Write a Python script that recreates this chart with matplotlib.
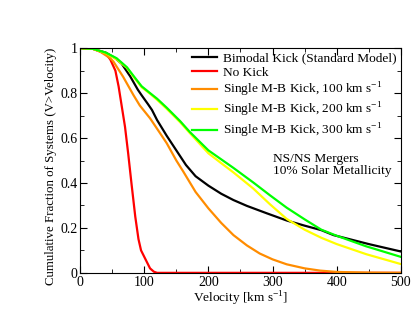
import numpy as np
import matplotlib
matplotlib.use("Agg")
import matplotlib.pyplot as plt
from matplotlib.ticker import MultipleLocator

plt.rcParams["font.family"] = ["Liberation Serif", "DejaVu Serif"]
plt.rcParams["mathtext.fontset"] = "custom"
plt.rcParams["mathtext.rm"] = "Liberation Serif"
plt.rcParams["font.size"] = 10

# values
v_black = [0, 20, 40, 55, 65, 78, 90, 96, 106, 112, 120, 135, 150, 165, 180, 200, 220, 239, 260, 291, 322, 350, 376, 395, 450, 500]
f_black = [1.0, 0.997, 0.98, 0.955, 0.93, 0.875, 0.815, 0.79, 0.75, 0.725, 0.68, 0.61, 0.545, 0.48, 0.43, 0.388,
           0.352, 0.324, 0.298, 0.265, 0.233, 0.21, 0.19, 0.168, 0.128, 0.095]

v_red = [0, 20, 40, 47, 55, 60, 65, 70, 75, 80, 86, 91, 95, 102, 109, 115, 120, 500]
f_red = [1.0, 0.997, 0.975, 0.95, 0.9, 0.83, 0.74, 0.65, 0.53, 0.40, 0.25, 0.15, 0.10, 0.06, 0.02, 0.005, 0.0, 0.0]

v_orange = [0, 20, 31, 47, 52, 67, 83, 93, 100, 109, 125, 135, 150, 161, 180, 200, 220, 239, 260, 280, 300, 322, 350, 374, 400, 450, 500]
f_orange = [1.0, 0.997, 0.985, 0.955, 0.94, 0.873, 0.792, 0.745, 0.72, 0.688, 0.62, 0.577, 0.5, 0.45, 0.36, 0.287,
            0.222, 0.168, 0.122, 0.086, 0.06, 0.038, 0.02, 0.01, 0.004, 0.001, 0.0]

v_yellow = [0, 20, 40, 57, 73, 85, 96, 109, 120, 135, 156, 171, 200, 220, 239, 270, 296, 322, 350, 376, 400, 446, 500]
f_yellow = [1.0, 0.997, 0.978, 0.95, 0.912, 0.866, 0.826, 0.797, 0.77, 0.73, 0.67, 0.622, 0.532, 0.488, 0.447, 0.375,
            0.305, 0.24, 0.192, 0.156, 0.128, 0.083, 0.039]

v_green = [0, 20, 40, 57, 73, 85, 96, 109, 120, 135, 156, 171, 200, 220, 239, 270, 296, 322, 350, 376, 400, 446, 500]
f_green = [1.0, 0.997, 0.98, 0.955, 0.915, 0.87, 0.83, 0.80, 0.775, 0.735, 0.675, 0.627, 0.545, 0.505, 0.467, 0.402,
           0.345, 0.29, 0.238, 0.192, 0.165, 0.118, 0.071]

fig = plt.figure(figsize=(4.15, 3.21), dpi=100)
ax = fig.add_axes([0.193, 0.150, 0.773, 0.700])

ax.plot(v_black, f_black, color="black", lw=1.6, label="Bimodal Kick (Standard Model)")
ax.plot(v_red, f_red, color="#ff0000", lw=1.6, label="No Kick")
ax.plot(v_orange, f_orange, color="#ff8c00", lw=1.6, label="Single M-B Kick, 100 km s$^{-1}$")
ax.plot(v_yellow, f_yellow, color="#ffff00", lw=1.6, label="Single M-B Kick, 200 km s$^{-1}$")
ax.plot(v_green, f_green, color="#00ff00", lw=1.6, label="Single M-B Kick, 300 km s$^{-1}$")

ax.set_xlim(0, 500)
ax.set_ylim(0, 1)
ax.xaxis.set_major_locator(MultipleLocator(100))
ax.xaxis.set_minor_locator(MultipleLocator(50))
ax.yaxis.set_minor_locator(MultipleLocator(0.1))
ax.set_yticks([0, 0.2, 0.4, 0.6, 0.8, 1.0], ["0", "0.2", "0.4", "0.6", "0.8", "1"])
ax.tick_params(which="both", direction="in", top=True, right=True, pad=2)
ax.tick_params(which="major", length=5)
ax.tick_params(which="minor", length=3)

ax.set_xlabel("Velocity [km s$^{-1}$]", labelpad=1, fontsize=9.6)
ax.set_ylabel("Cumulative Fraction of Systems (V>Velocity)", fontsize=9.3)
ax.yaxis.set_label_coords(-0.072, 0.475)

ax.legend(loc="upper right", frameon=False, fontsize=9.6, handlelength=1.9,
          handletextpad=0.45, labelspacing=0.15, borderaxespad=0.0, borderpad=0.3)
ax.text(0.60, 0.535, "NS/NS Mergers\n10% Solar Metallicity", transform=ax.transAxes,
        fontsize=9.6, va="top", ha="left", linespacing=1.0)

fig.savefig("out.png", dpi=100)
